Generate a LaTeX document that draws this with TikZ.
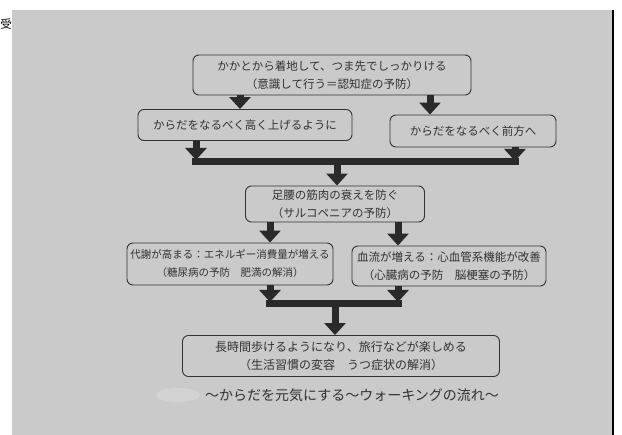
\documentclass[tikz,border=0pt]{standalone}
\usepackage{fontspec}
\newfontfamily\jp{Noto Sans CJK JP}
\usetikzlibrary{arrows.meta}
\definecolor{photo}{RGB}{202,202,202}
\definecolor{ink}{RGB}{50,50,50}
\definecolor{arr}{RGB}{42,42,42}
\begin{document}
\begin{tikzpicture}[x=1pt,y=-1pt,
  box/.style={draw=ink, line width=0.9pt, rounded corners=6pt, align=center,
    font=\jp\fontsize{11.5}{18}\selectfont, text=ink, inner sep=0pt},
  bigarr/.style={draw=arr, line width=7pt, -{Triangle[width=21pt,length=12pt]}},
  barline/.style={draw=arr, line width=7pt},
  caption/.style={font=\jp\fontsize{14}{16}\selectfont, text=ink, inner sep=0pt}]
\useasboundingbox (0,0) rectangle (622,435);
\fill[white] (0,0) rectangle (622,435);
\fill[photo] (12,10) rectangle (613,435);
\draw[black, line width=1.2pt] (613,10) -- (613,435);
\node[anchor=west, inner sep=0pt, font=\jp\fontsize{11.5}{12}\selectfont] (edge) at (0.3,24) {受};

\node[box, minimum width=278pt, minimum height=40pt] (b1) at (332,75)
  {かかとから着地して、つま先でしっかりける\\（意識して行う＝認知症の予防）};
\node[box, minimum width=214pt, minimum height=31pt] (b2) at (245,125)
  {からだをなるべく高く上げるように};
\node[box, minimum width=166pt, minimum height=32pt] (b3) at (473,131)
  {からだをなるべく前方へ};
\node[box, minimum width=179pt, minimum height=36pt] (b4) at (335,204)
  {足腰の筋肉の衰えを防ぐ\\（サルコペニアの予防）};
\node[box, minimum width=206pt, minimum height=42pt, font=\jp\fontsize{10.5}{18}\selectfont] (b5) at (230,264)
  {代謝が高まる：エネルギー消費量が増える\\（糖尿病の予防　肥満の解消）};
\node[box, minimum width=194pt, minimum height=40pt] (b6) at (449,266)
  {血流が増える：心血管系機能が改善\\（心臓病の予防　脳梗塞の予防）};
\node[box, minimum width=317pt, minimum height=41pt, font=\jp\fontsize{12}{18}\selectfont] (b7) at (341,356)
  {長時間歩けるようになり、旅行などが楽しめる\\（生活習慣の変容　うつ症状の解消）};

\fill[white, opacity=0.18] (178,395) ellipse [x radius=22pt, y radius=7pt];
\node[caption] (cap) at (352,395) {～からだを元気にする～ウォーキングの流れ～};

% top arrows
\coordinate (xa) at (240,0);
\coordinate (xb) at (430,0);
\draw[bigarr] (b1.south -| xa) -- (b2.north -| xa);
\draw[bigarr] (b1.south -| xb) -- (b3.north -| xb);

% first merge
\coordinate (tl) at (196,160);
\coordinate (tr) at (515,161);
\coordinate (bl) at (192,162);
\coordinate (br) at (519,162);
\coordinate (jc) at (337,162);
\draw[barline] (bl) -- (br);
\draw[bigarr] (b2.south -| tl) -- (tl);
\draw[bigarr] (b3.south -| tr) -- (tr);
\draw[bigarr] (jc) -- (b4.north -| jc);

% split
\coordinate (xc) at (270,0);
\coordinate (xd) at (398,0);
\draw[bigarr] (b4.south -| xc) -- (b5.north -| xc);
\draw[bigarr] (b4.south -| xd) -- (b6.north -| xd);

% second merge
\coordinate (ul) at (270,302);
\coordinate (ur) at (398,302);
\coordinate (vl) at (266,304);
\coordinate (vr) at (402,304);
\coordinate (jd) at (335,304);
\draw[barline] (vl) -- (vr);
\draw[bigarr] (b5.south -| ul) -- (ul);
\draw[bigarr] (b6.south -| ur) -- (ur);
\draw[bigarr] (jd) -- (b7.north -| jd);
\end{tikzpicture}
\end{document}
